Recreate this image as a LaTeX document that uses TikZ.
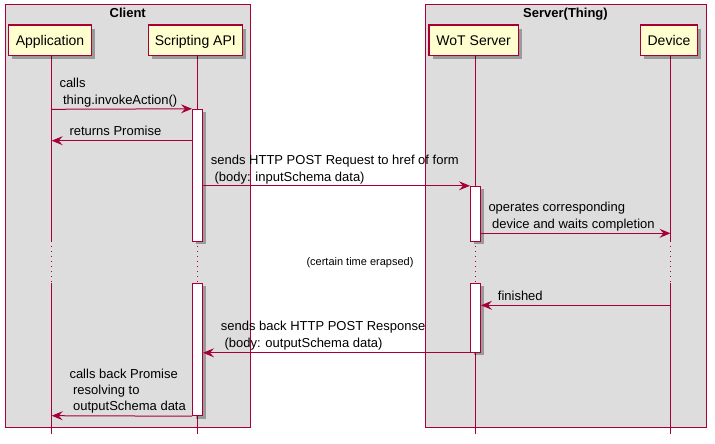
\documentclass[tikz,border=0pt]{standalone}
\usepackage{fontspec}
\setmainfont{Liberation Sans}
\usetikzlibrary{arrows.meta,shadows}
\definecolor{pumlred}{HTML}{A80036}
\definecolor{pumlyel}{HTML}{FEFECE}
\definecolor{pumlgray}{HTML}{DDDDDD}
\newcommand{\lsp}{\mbox{}\ }
\begin{document}
\begin{tikzpicture}[x=1pt,y=-1pt,
  grp/.style={draw=pumlred,fill=pumlgray,line width=1pt,anchor=north west,inner sep=0},
  grptitle/.style={font=\bfseries\fontsize{13}{15}\selectfont,inner sep=0,anchor=north},
  part/.style={draw=pumlred,fill=pumlyel,line width=1.4pt,minimum height=30.5pt,inner sep=0,
    text height=10.2pt,text depth=0pt,
    font=\fontsize{14}{16}\selectfont,
    drop shadow={shadow xshift=3.5pt,shadow yshift=-3.5pt,fill=black,opacity=0.3}},
  life/.style={draw=pumlred,line width=1pt},
  lifedot/.style={draw=pumlred,line width=1pt,dash pattern=on 1pt off 4pt},
  act/.style={draw=pumlred,fill=white,line width=1pt,minimum width=10pt,inner sep=0,
    drop shadow={shadow xshift=3pt,shadow yshift=-3pt,fill=black,opacity=0.3}},
  msg/.style={draw=pumlred,line width=1pt,-{Stealth[length=11pt,width=9pt,inset=4pt]}},
  lbl/.style={anchor=south west,inner sep=0,align=left,font=\fontsize{13}{16.3}\selectfont},
]
\useasboundingbox (0,0) rectangle (715,444);
\fill[white] (0,0) rectangle (715,444);
% groups
\node[grp,minimum width=245.5pt,minimum height=422.5pt] (client) at (4.5,4.5) {};
\node[grptitle] (clientT) at ([yshift=-3pt]client.north) {Client};
\node[grp,minimum width=281pt,minimum height=422.5pt] (server) at (424.5,4.5) {};
\node[grptitle] (serverT) at ([yshift=-3pt]server.north) {Server(Thing)};
% lifelines
\foreach \n/\x in {app/51.7,scr/197.5,wot/475.5,dev/670.5}{
  \coordinate (\n-top) at (\x,55.7);
  \coordinate (\n-d1) at (\x,241);
  \coordinate (\n-d2) at (\x,283);
  \coordinate (\n-bot) at (\x,433.5);
  \draw[life] (\n-top) -- (\n-d1);
  \draw[lifedot] (\n-d1) -- (\n-d2);
  \draw[life] (\n-d2) -- (\n-bot);
}
% participants
\node[part,minimum width=83.4pt] (app) at (50,40.3) {Application};
\node[part,minimum width=94pt] (scr) at (195.3,40.3) {Scripting API};
\node[part,minimum width=89.3pt] (wot) at (473.7,40.3) {WoT Server};
\node[part,minimum width=56.6pt] (dev) at (669,40.3) {Device};
% activations
\node[act,minimum height=131.7pt] (act1) at (197.5,175.15) {};
\node[act,minimum height=132.7pt] (act2) at (197.5,349.35) {};
\node[act,minimum height=54.7pt] (act3) at (475.5,213.65) {};
\node[act,minimum height=69.3pt] (act4) at (475.5,317.65) {};
% message coordinates
\coordinate (m1s) at (51.7,109.3);
\coordinate (m2e) at (51.7,140.7);
\coordinate (m4e) at (670.5,233.3);
\coordinate (m5s) at (670.5,305.3);
\coordinate (m7e) at (51.7,415.7);
% messages
\draw[msg] (m1s) -- (act1.north west);
\draw[msg] (act1.west |- m2e) -- (m2e);
\draw[msg] (act1.east |- act3.north) -- (act3.north west);
\draw[msg] (act3.east |- m4e) -- (m4e);
\draw[msg] (m5s) -- (act4.east |- m5s);
\draw[msg] (act4.south west) -- (act2.east |- act4.south);
\draw[msg] (act2.south west) -- (m7e);
% labels
\node[lbl] (l1) at (59.3,109.3) {calls\\\lsp thing.invokeAction()\strut};
\node[lbl] (l2) at (69.3,140.7) {returns Promise\strut};
\node[lbl] (l3) at (210.7,186.3) {sends HTTP POST Request to href of form\\\lsp(body: inputSchema data)\strut};
\node[lbl] (l4) at (488.3,233.3) {operates corresponding\\\lsp device and waits completion\strut};
\node[lbl] (l5) at (497.7,305.3) {finished\strut};
\node[lbl] (l6) at (220.7,352.3) {sends back HTTP POST Response\\\lsp(body: outputSchema data)\strut};
\node[lbl] (l7) at (69.3,415.7) {calls back Promise\\\lsp resolving to\\\lsp outputSchema data\strut};
% delay
\node[inner sep=0,font=\fontsize{11}{13}\selectfont] (delay) at (360,263) {(certain time erapsed)};
\end{tikzpicture}
\end{document}
